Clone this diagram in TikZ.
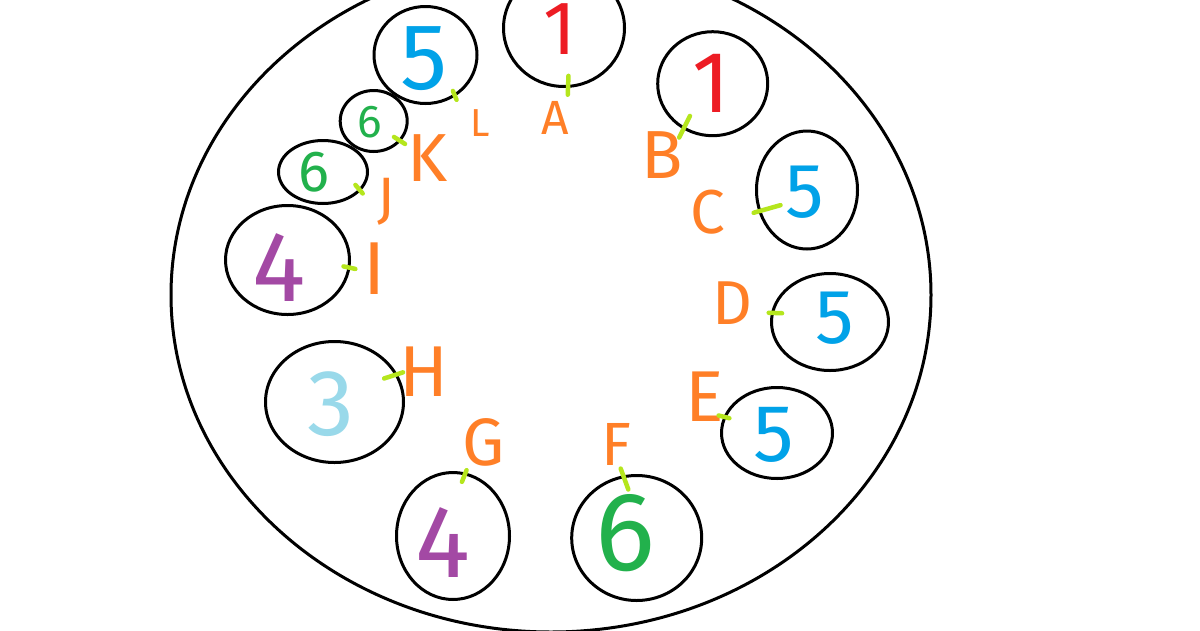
\documentclass[tikz,border=0pt]{standalone}
\usepackage{fontspec}
\setmainfont{Fira Sans}
\usepackage{tikz}
\usetikzlibrary{shapes.geometric}

\definecolor{pred}{HTML}{ED1C24}
\definecolor{porange}{HTML}{FF7F27}
\definecolor{plime}{HTML}{B5E61D}
\definecolor{pgreen}{HTML}{22B14C}
\definecolor{pblue}{HTML}{00A2E8}
\definecolor{ppurple}{HTML}{A349A4}
\definecolor{plight}{HTML}{99D9EA}

\newcommand\sz[1]{\fontsize{#1}{#1}\selectfont}

\begin{document}
\begin{tikzpicture}[x=1pt,y=-1pt,
  ring/.style={draw,ellipse,line width=3pt,inner sep=0pt,outer sep=0pt},
  lbl/.style={inner sep=0pt,text=porange},
  num/.style={inner sep=0pt},
  link/.style={draw=plime,line width=4.5pt,line cap=round,shorten >=2pt}]
  \useasboundingbox (0,0) rectangle (1200,630);
  \clip (0,0) rectangle (1200,630);
  \fill[white] (0,0) rectangle (1200,630);

  \draw[line width=3pt] (551,295) ellipse [x radius=380, y radius=337];

  \node[ring,minimum width=121pt,minimum height=117pt] (a) at (564,28) {};
  \node[ring,minimum width=110pt,minimum height=104pt] (b) at (712.7,83.7) {};
  \node[ring,minimum width=101pt,minimum height=118pt] (c) at (807,190) {};
  \node[ring,minimum width=117pt,minimum height=97pt] (d) at (830,322) {};
  \node[ring,minimum width=111pt,minimum height=91pt] (e) at (777,433) {};
  \node[ring,minimum width=130pt,minimum height=125pt] (f) at (636.7,538) {};
  \node[ring,minimum width=113pt,minimum height=127pt] (g) at (453,536) {};
  \node[ring,minimum width=138pt,minimum height=121pt] (h) at (334.5,402) {};
  \node[ring,minimum width=124pt,minimum height=109pt] (i) at (287.5,260) {};
  \node[ring,minimum width=89pt,minimum height=63pt] (j) at (323,172) {};
  \node[ring,minimum width=67pt,minimum height=61pt] (k) at (373.7,121) {};
  \node[ring,minimum width=103pt,minimum height=97pt] (l) at (425.5,55) {};

  \node[num,text=pred] (na) at (560,29) {\sz{76}1};
  \node[num,text=pred] (nb) at (711,83) {\sz{87}1};
  \node[num,text=pblue] (nc) at (805,192) {\sz{77}5};
  \node[num,text=pblue] (nd) at (835,318) {\sz{77}5};
  \node[num,text=pblue] (ne) at (774,435) {\sz{81}5};
  \node[num,text=pgreen] (nf) at (625,533) {\sz{112}6};
  \node[num,text=ppurple] (ng) at (443,543) {\sz{103}4};
  \node[num,text=plight] (nh) at (331,404) {\sz{94}3};
  \node[num,text=ppurple] (ni) at (279,268) {\sz{100}4};
  \node[num,text=pgreen] (nj) at (314,172) {\sz{58}6};
  \node[num,text=pgreen] (nk) at (370,122) {\sz{46}6};
  \node[num,text=pblue] (nl) at (424,59) {\sz{94}5};

  \node[lbl] (A) at (555,118) {\sz{48}A};
  \node[lbl] (B) at (662.5,155) {\sz{68}B};
  \node[lbl] (C) at (708,212) {\sz{62}C};
  \node[lbl] (D) at (732,303) {\sz{62}D};
  \node[lbl] (E) at (705,397) {\sz{72}E};
  \node[lbl] (F) at (616,444) {\sz{61}F};
  \node[lbl] (G) at (484,442) {\sz{67}G};
  \node[lbl] (H) at (424,372) {\sz{72}H};
  \node[lbl] (I) at (375,269) {\sz{75}I};
  \node[lbl] (J) at (386,202) {\sz{57}J};
  \node[lbl] (K) at (428,158) {\sz{68}K};
  \node[lbl] (L) at (480,123) {\sz{39}L};

  \coordinate (ka) at (567.7,96.7);
  \coordinate (kb) at (678.3,139.3);
  \coordinate (kc) at (751.7,213.3);
  \coordinate (kd) at (766.7,312.7);
  \coordinate (ke) at (716.7,415);
  \coordinate (kf) at (620,466.7);
  \coordinate (kg) at (467.3,468.3);
  \coordinate (kh) at (405,371.7);
  \coordinate (ki) at (357.3,269.3);
  \coordinate (kj) at (364,195);
  \coordinate (kk) at (406.7,145);
  \coordinate (kl) at (457.3,101.7);

  \draw[link,shorten <=-10.5pt](a.-86.5)--(ka);
  \draw[link,shorten <=-13.5pt](b.-123)--(kb);
  \draw[link,shorten <=-21.5pt](c.-156)--(kc);
  \draw[link,shorten <=-9.5pt](d.171)--(kd);
  \draw[link,shorten <=-4.5pt](e.163)--(ke);
  \draw[link,shorten <=-13.5pt](f.102)--(kf);
  \draw[link,shorten <=-8.5pt](g.79)--(kg);
  \draw[link,shorten <=-12.5pt](h.24)--(kh);
  \draw[link,shorten <=-5.5pt](i.-7)--(ki);
  \draw[link,shorten <=-6.5pt](j.-26)--(kj);
  \draw[link,shorten <=-6.5pt](k.-37)--(kk);
  \draw[link,shorten <=-4.5pt](l.-54)--(kl);
\end{tikzpicture}
\end{document}
